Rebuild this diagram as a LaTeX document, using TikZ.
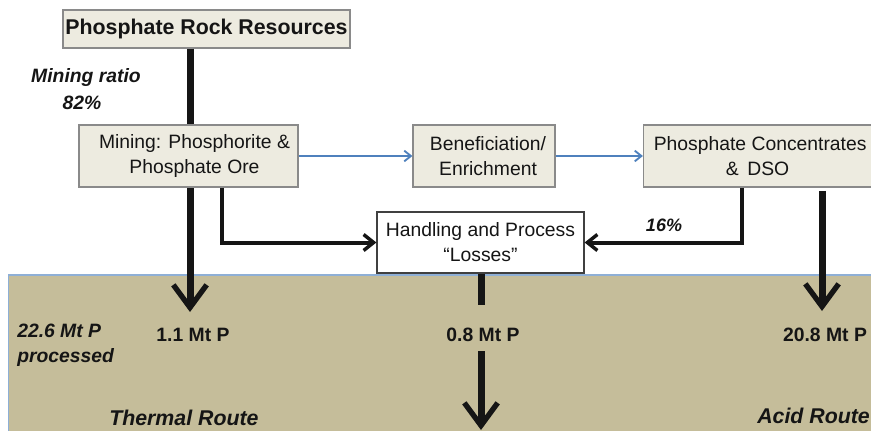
\documentclass[tikz,border=0pt]{standalone}
\usepackage{fontspec}
\setmainfont{Liberation Sans}
\usetikzlibrary{arrows.meta}
\definecolor{boxfill}{HTML}{EDEBE0}
\definecolor{boxdraw}{HTML}{8A8A8A}
\definecolor{panelfill}{HTML}{C5BD9A}
\definecolor{panelline}{HTML}{8EAFD6}
\definecolor{flowblue}{HTML}{4F81BD}
\definecolor{ink}{HTML}{151515}
\begin{document}
\begin{tikzpicture}[x=0.75pt,y=-0.75pt,
  box/.style={draw=boxdraw, fill=boxfill, line width=0.9pt, inner sep=0pt, align=center, text=ink, font=\fontsize{14.5}{18.75}\selectfont},
  whitebox/.style={draw=black!75, fill=white, line width=0.9pt, inner sep=0pt, align=center, text=ink, font=\fontsize{14.5}{18.75}\selectfont},
  heavy/.style={draw=ink, line width=5.25pt, -{Straight Barb[length=17pt,width=25pt,line width=4pt]}},
  medium/.style={draw=ink, line width=3pt, -{Straight Barb[length=7.5pt,width=12pt,line width=2.6pt]}},
  plainline/.style={draw=ink, line width=5.25pt},
  blueflow/.style={draw=flowblue, line width=1.5pt, -{Straight Barb[length=5pt,width=8pt,line width=1.4pt]}},
  lbl/.style={inner sep=0pt, anchor=base, text=ink},
  bilbl/.style={lbl, font=\fontsize{14.5}{17}\selectfont\bfseries\itshape},
  blbl/.style={lbl, font=\fontsize{14.5}{17}\selectfont\bfseries},
  routelbl/.style={lbl, font=\fontsize{16}{19}\selectfont\bfseries\itshape}
]
\useasboundingbox (0,0) rectangle (871,431);

% background panel
\fill[panelfill] (8.5,275) rectangle (880,440);
\draw[panelline, line width=1pt] (8.5,440) -- (8.5,275) -- (880,275);

\coordinate (t1) at (190,312);
\coordinate (r0) at (822,191);
\coordinate (r1) at (822,311);
\coordinate (c0) at (481,305);
\coordinate (c1) at (481,351);
\coordinate (c2) at (481,430);

\node[box, minimum width=215.25pt, minimum height=28.5pt, font=\fontsize{16}{19}\selectfont\bfseries] (title) at (206.5,29) {Phosphate Rock Resources};

% heavy line from resources, passing behind mining box
\draw[heavy] (title.south -| t1) -- (t1);

\node[box, minimum width=164.25pt, minimum height=46.5pt] (mining) at (188.5,156) {\hspace*{9pt}Mining: Phosphorite \&\\\hspace*{9pt}Phosphate Ore};
\node[box, minimum width=106.5pt, minimum height=46.5pt] (benef) at (484,156) {\hspace*{6pt}Beneficiation/\\\hspace*{6pt}Enrichment};
\node[box, minimum width=171pt, minimum height=46.5pt] (conc) at (757.5,156) {\hspace*{4pt}Phosphate Concentrates\\\&\, DSO};
\node[whitebox, minimum width=155.25pt, minimum height=45.75pt] (handling) at (480.5,242.5) {Handling and Process\\“Losses”};

% blue flows
\draw[blueflow] (mining) -- (benef);
\draw[blueflow] (benef) -- (conc);

% losses
\draw[medium] (mining.south -| 222,0) |- (handling.west);
\draw[medium] (conc.south -| 742,0) |- (handling.east);

% right heavy arrow
\draw[heavy] (r0) -- (r1);

% centre flow
\draw[plainline] (handling.south -| c0) -- (c0);
\draw[heavy] (c1) -- (c2);

% labels
\node[bilbl] (mr1) at (86,83) {Mining ratio};
\node[bilbl] (mr2) at (82,110) {82\%};
\node[bilbl, font=\fontsize{13.5}{16}\selectfont\bfseries\itshape] (pct) at (664,232) {16\%};

\node[bilbl, anchor=base west] (proc1) at (17,337) {22.6 Mt P};
\node[bilbl, anchor=base west] (proc2) at (17,362) {processed};
\node[blbl] (v1) at (193,341) {1.1 Mt P};
\node[blbl] (v2) at (483,341) {0.8 Mt P};
\node[blbl] (v3) at (825,341) {20.8 Mt P};
\node[routelbl, anchor=base west] (thermal) at (109,425) {Thermal Route};
\node[routelbl, anchor=base west] (acid) at (757,423) {Acid Route};
\end{tikzpicture}
\end{document}
